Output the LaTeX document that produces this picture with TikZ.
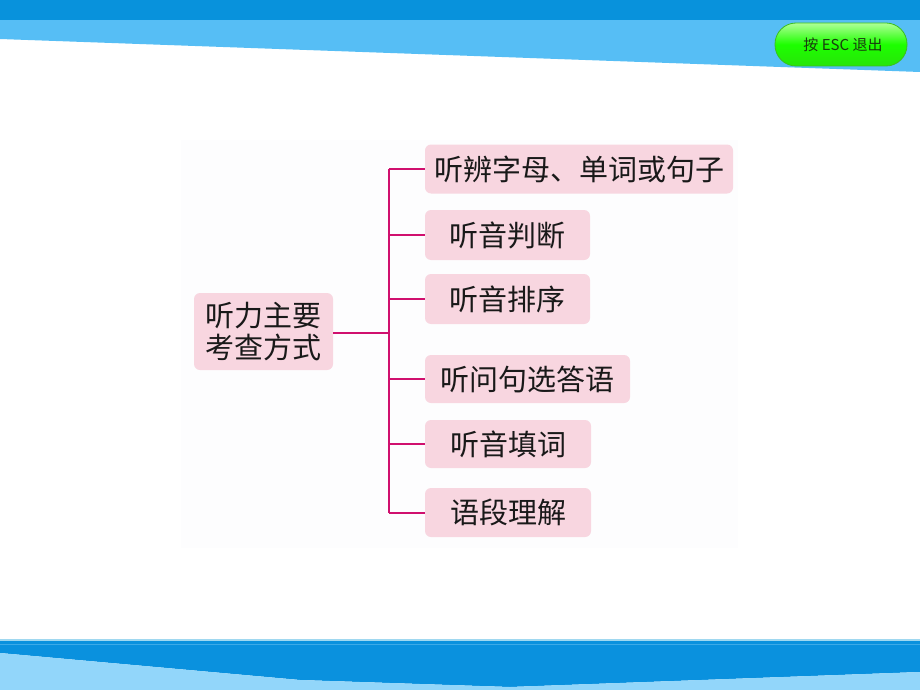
\documentclass[tikz,border=0pt]{standalone}
\usepackage{fontspec}
\newfontfamily\cjk{Noto Sans CJK SC}
\definecolor{topdark}{RGB}{8,146,220}
\definecolor{toplight}{RGB}{86,190,245}
\definecolor{botdark}{RGB}{10,145,222}
\definecolor{botlight}{RGB}{146,214,250}
\definecolor{botline}{RGB}{160,216,240}
\definecolor{botline2}{RGB}{60,170,232}
\definecolor{panelbg}{RGB}{253,253,254}
\definecolor{boxpink}{RGB}{248,214,224}
\definecolor{linkred}{RGB}{208,16,110}
\definecolor{btntop}{RGB}{175,255,150}
\definecolor{btnbot}{RGB}{40,228,10}
\definecolor{btnedge}{RGB}{60,190,30}
\definecolor{btntext}{RGB}{25,60,15}
\tikzset{
  itembox/.style={fill=boxpink, rounded corners=6pt, inner sep=0pt,
    font=\cjk\fontsize{29}{34}\selectfont, text=black!90},
  link/.style={draw=linkred, line width=2pt},
  btn/.style={draw=btnedge, line width=0.8pt, rounded corners=21pt,
    top color=btntop, bottom color=btnbot, middle color=green!85!lime,
    minimum width=132pt, minimum height=43pt, inner sep=0pt,
    font=\cjk\fontsize{15}{17}\selectfont, text=btntext}
}
\begin{document}
\begin{tikzpicture}[x=1pt,y=-1pt]
\useasboundingbox (0,0) rectangle (920,690);
\fill[white] (0,0) rectangle (920,690);
% top bands
\fill[toplight] (0,20) -- (920,20) -- (920,72) -- (0,39) -- cycle;
\fill[topdark] (0,0) rectangle (920,20);
% bottom bands
\fill[botdark] (0,641) -- (920,641) -- (920,672) -- (510,687) -- (300,680) -- (0,653) -- cycle;
\fill[botlight] (0,653) -- (300,680) -- (510,687) -- (920,672) -- (920,690) -- (0,690) -- cycle;
\draw[botline, line width=1.5pt] (0,640) -- (920,640);
\draw[botline2, line width=0.8pt] (0,644.5) -- (920,644.5);
% button
\node[btn] (esc) at (841,44.5) {\hspace*{4pt}按 ESC 退出};
% panel
\fill[panelbg] (181,140) rectangle (738,548);
% nodes
\node[itembox, minimum width=139pt, minimum height=77pt, align=center] (root) at (263.5,331.5) {听力主要\\[-2pt]考查方式};
\node[itembox, minimum width=308pt, minimum height=49pt] (n1) at (579,169) {听辨字母、单词或句子};
\node[itembox, minimum width=165pt, minimum height=50pt] (n2) at (507.5,235) {听音判断};
\node[itembox, minimum width=165pt, minimum height=50pt] (n3) at (507.5,299) {听音排序};
\node[itembox, minimum width=205pt, minimum height=48pt] (n4) at (527.5,379) {听问句选答语};
\node[itembox, minimum width=166pt, minimum height=48pt] (n5) at (508,444) {听音填词};
\node[itembox, minimum width=166pt, minimum height=49pt] (n6) at (508,512.5) {语段理解};
% connectors
\coordinate (j) at (389,333);
\draw[link] (root.east |- j) -- (j);
\draw[link] (j |- n1.west) -- (j |- n6.west);
\foreach \b in {n1,n2,n3,n4,n5,n6}{
  \draw[link] (j |- \b.west) -- (\b.west);
}
\end{tikzpicture}
\end{document}
